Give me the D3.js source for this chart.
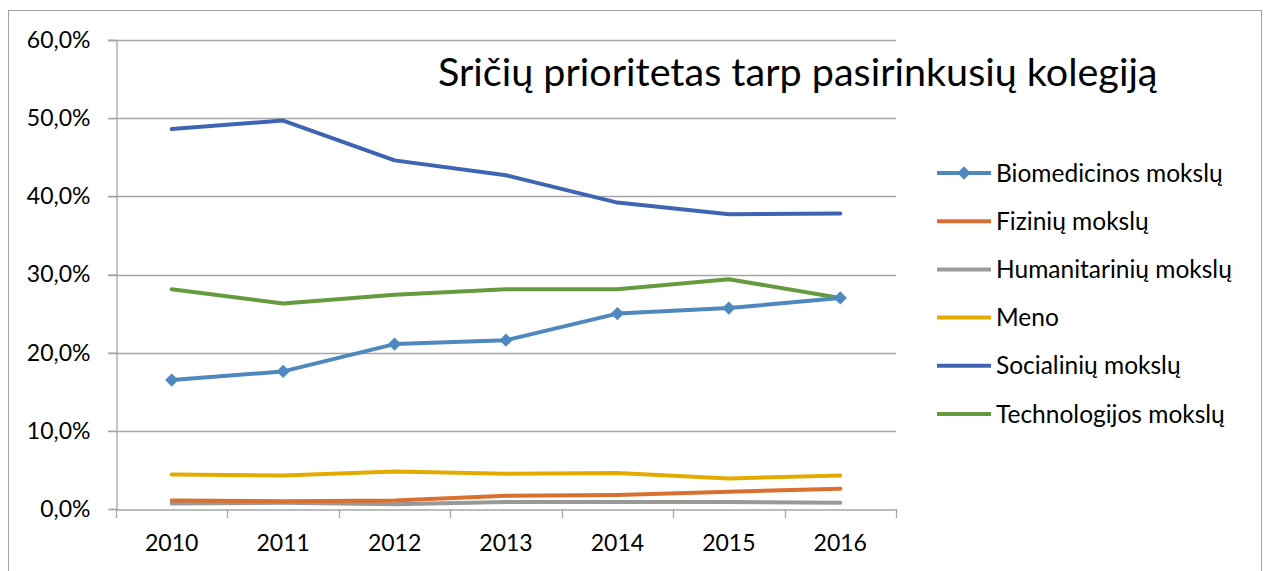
<!DOCTYPE html>
<html><head><meta charset="utf-8">
<script src="https://cdn.jsdelivr.net/npm/d3@7"></script>
<style>body{margin:0;background:#fff}svg{display:block}text{font-family:Lato,"Open Sans",sans-serif;fill:#000}</style>
</head><body><svg id="c" width="1269" height="571"></svg>
<script>
const years = ["2010","2011","2012","2013","2014","2015","2016"];
const seriesNames = ["Biomedicinos mokslų","Fizinių mokslų","Humanitarinių mokslų","Meno","Socialinių mokslų","Technologijos mokslų"];
const biomedicinos = [16.5,17.6,21.1,21.6,25.0,25.7,27.0];
const fiziniu = [1.1,1.0,1.1,1.7,1.8,2.2,2.6];
const humanitariniu = [0.7,0.8,0.6,0.9,0.9,0.9,0.8];
const meno = [4.4,4.3,4.8,4.5,4.6,3.9,4.3];
const socialiniu = [48.6,49.7,44.6,42.7,39.2,37.7,37.8];
const technologijos = [28.1,26.3,27.4,28.1,28.1,29.4,27.0];
const yTicks = [0,10,20,30,40,50,60];
const titleText = "Sričių prioritetas tarp pasirinkusių kolegiją";
const colors = ["#4f87bf","#d9702f","#999999","#e3ab00","#3e65b3","#649b3f"];
const allSeries = [biomedicinos,fiziniu,humanitariniu,meno,socialiniu,technologijos];

const svg = d3.select("#c");
svg.append("rect").attr("x",8.5).attr("y",10.5).attr("width",1253).attr("height",600)
  .attr("fill","#fff").attr("stroke","#a0a0a0").attr("stroke-width",1);

const L=116,R=896,T=40,B=509;
const x = d3.scaleBand().domain(years).range([L,R]);
const y = d3.scaleLinear().domain([0,60]).range([B,T]);

// gridlines
svg.append("g").selectAll("line").data(yTicks.filter(d=>d>0)).join("line")
  .attr("x1",L-8).attr("x2",R).attr("y1",d=>Math.round(y(d))+0.5).attr("y2",d=>Math.round(y(d))+0.5)
  .attr("stroke","#a6a6a6").attr("stroke-width",1.3);

const yAxis = svg.append("g").attr("transform",`translate(${L+0.5},0)`)
  .call(d3.axisLeft(y).tickValues(yTicks).tickSize(8).tickPadding(18).tickFormat(d=>d3.format(".1f")(d).replace(".",",")+"%"));
yAxis.select(".domain").attr("stroke","#a6a6a6").attr("stroke-width",1.3);
yAxis.selectAll(".tick line").attr("stroke","#a6a6a6").attr("stroke-width",1.3);
yAxis.selectAll("text").attr("font-size",23).attr("font-family","Lato");

const xAxis = svg.append("g").attr("transform",`translate(0,${B+0.5})`)
  .call(d3.axisBottom(x).tickSize(0).tickPadding(25));
xAxis.select(".domain").attr("stroke","#a6a6a6").attr("stroke-width",1.3);
xAxis.selectAll("text").attr("font-size",23).attr("font-family","Lato");
svg.append("g").selectAll("line").data(years.map((d,i)=>i).concat([years.length])).join("line")
  .attr("x1",i=>Math.round(L+i*x.step())+0.5).attr("x2",i=>Math.round(L+i*x.step())+0.5)
  .attr("y1",B).attr("y2",B+9).attr("stroke","#a6a6a6").attr("stroke-width",1.3);

const line = d3.line().x((d,i)=>x(years[i])+x.bandwidth()/2).y(d=>y(d));
const order = [2,1,3,4,5,0];
order.forEach(k=>{
  svg.append("path").datum(allSeries[k]).attr("d",line).attr("fill","none")
    .attr("stroke",colors[k]).attr("stroke-width",4).attr("stroke-linejoin","round").attr("stroke-linecap","round");
});
const diamondPath = d3.symbol().type(d3.symbolSquare).size(88)();
svg.append("g").selectAll("path").data(biomedicinos).join("path")
  .attr("d",diamondPath).attr("transform",(d,i)=>`translate(${x(years[i])+x.bandwidth()/2},${y(d)}) rotate(45)`)
  .attr("fill",colors[0]);

// title
svg.append("text").attr("x",438).attr("y",86).attr("font-size",39.5).attr("font-family","Lato").text(titleText);

// legend
const lg = svg.append("g");
seriesNames.forEach((n,i)=>{
  const yy = 173 + i*48.2;
  lg.append("line").attr("x1",937).attr("x2",991).attr("y1",yy).attr("y2",yy)
    .attr("stroke",colors[i]).attr("stroke-width",4);
  if(i===0){
    lg.append("path").attr("d",diamondPath)
      .attr("transform",`translate(964,${yy}) rotate(45)`).attr("fill",colors[0]);
  }
  lg.append("text").attr("x",996).attr("y",yy+8.5).attr("font-size",24.5).attr("font-family","Lato").text(n);
});
</script></body></html>
